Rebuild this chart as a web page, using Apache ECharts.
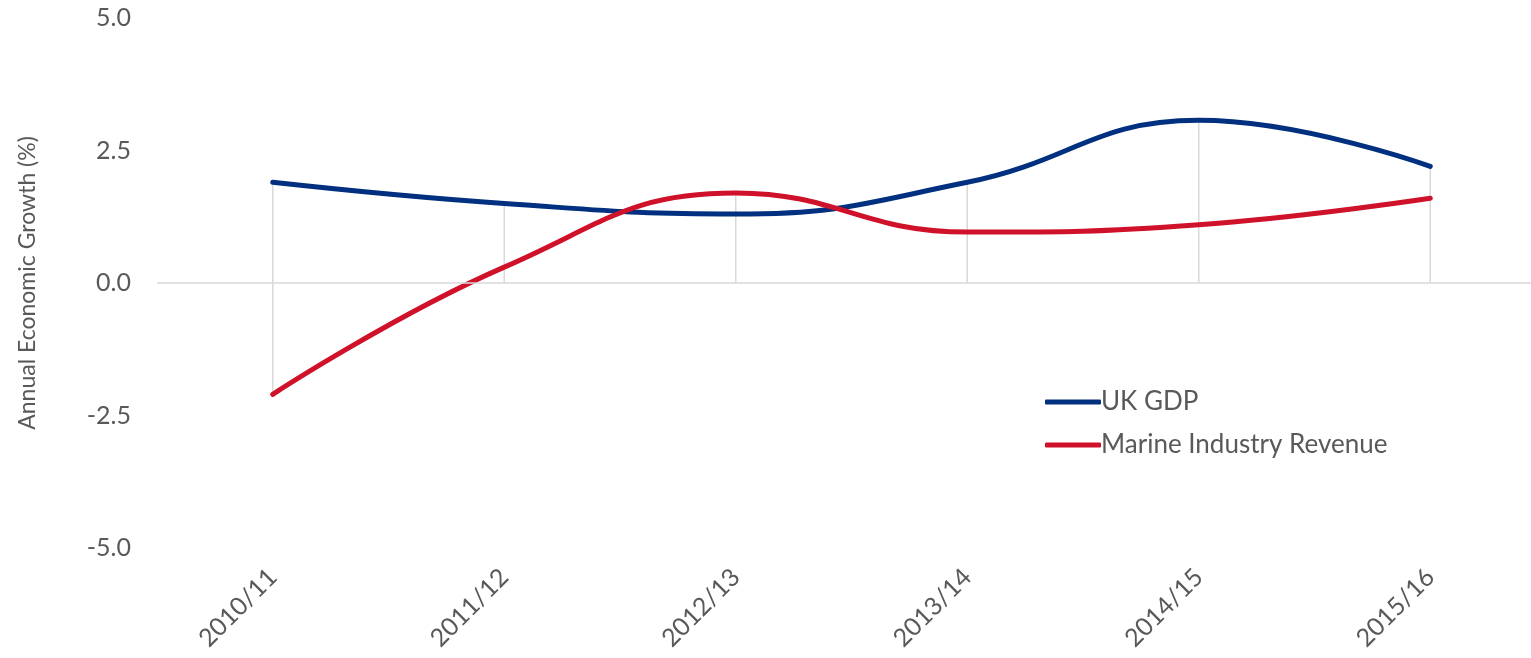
<!DOCTYPE html>
<html>
<head>
<meta charset="utf-8">
<script src="https://cdn.jsdelivr.net/npm/echarts@6/dist/echarts.min.js"></script>
<style>html,body{margin:0;padding:0;background:#fff}#c{width:1531px;height:658px}</style>
</head>
<body>
<div id="c"></div>
<script>
const categories = ['2010/11','2011/12','2012/13','2013/14','2014/15','2015/16'];
const ukGdp = [1.9, 1.5, 1.3, 1.9, 3.07, 2.2];
const marineRevenue = [-2.1, 0.3, 1.7, 0.96, 1.1, 1.6];
const seriesNames = ['UK GDP', 'Marine Industry Revenue'];
const yTicks = [-5, -2.5, 0, 2.5, 5];

const FONT = 'Lato, "Open Sans", sans-serif';
const TEXT = '#595959';
const BLUE = '#00307F';
const RED = '#CF1129';

const dropData = categories.map((c, i) => {
  const vals = [0, ukGdp[i], marineRevenue[i]];
  return [i, Math.min.apply(null, vals), Math.max.apply(null, vals)];
});

const chart = echarts.init(document.getElementById('c'), null, {renderer: 'canvas'});
chart.setOption({
  animation: false,
  backgroundColor: '#fff',
  grid: {left: 157, top: 18, width: 1389, height: 530, outerBoundsMode: 'none', containLabel: false},
  legend: {
    orient: 'vertical',
    left: 1040,
    top: 383,
    icon: 'roundRect',
    itemWidth: 56,
    itemHeight: 5,
    itemGap: 15,
    textStyle: {fontFamily: FONT, fontSize: 26, color: TEXT, lineHeight: 28, padding: [0,0,0,-5]},
    data: seriesNames
  },
  xAxis: {
    type: 'category',
    data: categories,
    boundaryGap: true,
    axisLine: {show: false},
    axisTick: {show: false},
    splitLine: {show: false},
    axisLabel: {rotate: 45, margin: 25, fontFamily: FONT, fontSize: 25, color: TEXT}
  },
  yAxis: {
    type: 'value',
    min: -5, max: 5, interval: 2.5,
    name: 'Annual Economic Growth (%)',
    nameLocation: 'middle',
    nameGap: 118,
    nameTextStyle: {fontFamily: FONT, fontSize: 23, color: TEXT},
    axisLine: {show: false},
    axisTick: {show: false},
    splitLine: {show: false},
    axisLabel: {
      margin: 26, fontFamily: FONT, fontSize: 25, color: TEXT,
      formatter: v => yTicks.indexOf(v) >= 0 ? v.toFixed(1) : ''
    }
  },
  series: [
    {
      type: 'custom',
      silent: true,
      z: 1,
      data: dropData,
      renderItem: (params, api) => {
        const p1 = api.coord([api.value(0), api.value(1)]);
        const p2 = api.coord([api.value(0), api.value(2)]);
        return {type: 'line', shape: {x1: p1[0], y1: p1[1], x2: p2[0], y2: p2[1]},
          style: {stroke: '#D9D9D9', lineWidth: 1.5}};
      },
      markLine: {
        silent: true, symbol: 'none', label: {show: false},
        lineStyle: {color: '#D9D9D9', width: 1.5, type: 'solid'},
        data: [{yAxis: 0}]
      }
    },
    {
      name: seriesNames[0], type: 'line', data: ukGdp, smooth: 0.45, symbol: 'none', z: 3,
      lineStyle: {color: BLUE, width: 5, cap: 'round'}, itemStyle: {color: BLUE}
    },
    {
      name: seriesNames[1], type: 'line', data: marineRevenue, smooth: 0.45, symbol: 'none', z: 4,
      lineStyle: {color: RED, width: 5, cap: 'round'}, itemStyle: {color: RED}
    }
  ]
});
</script>
</body>
</html>
